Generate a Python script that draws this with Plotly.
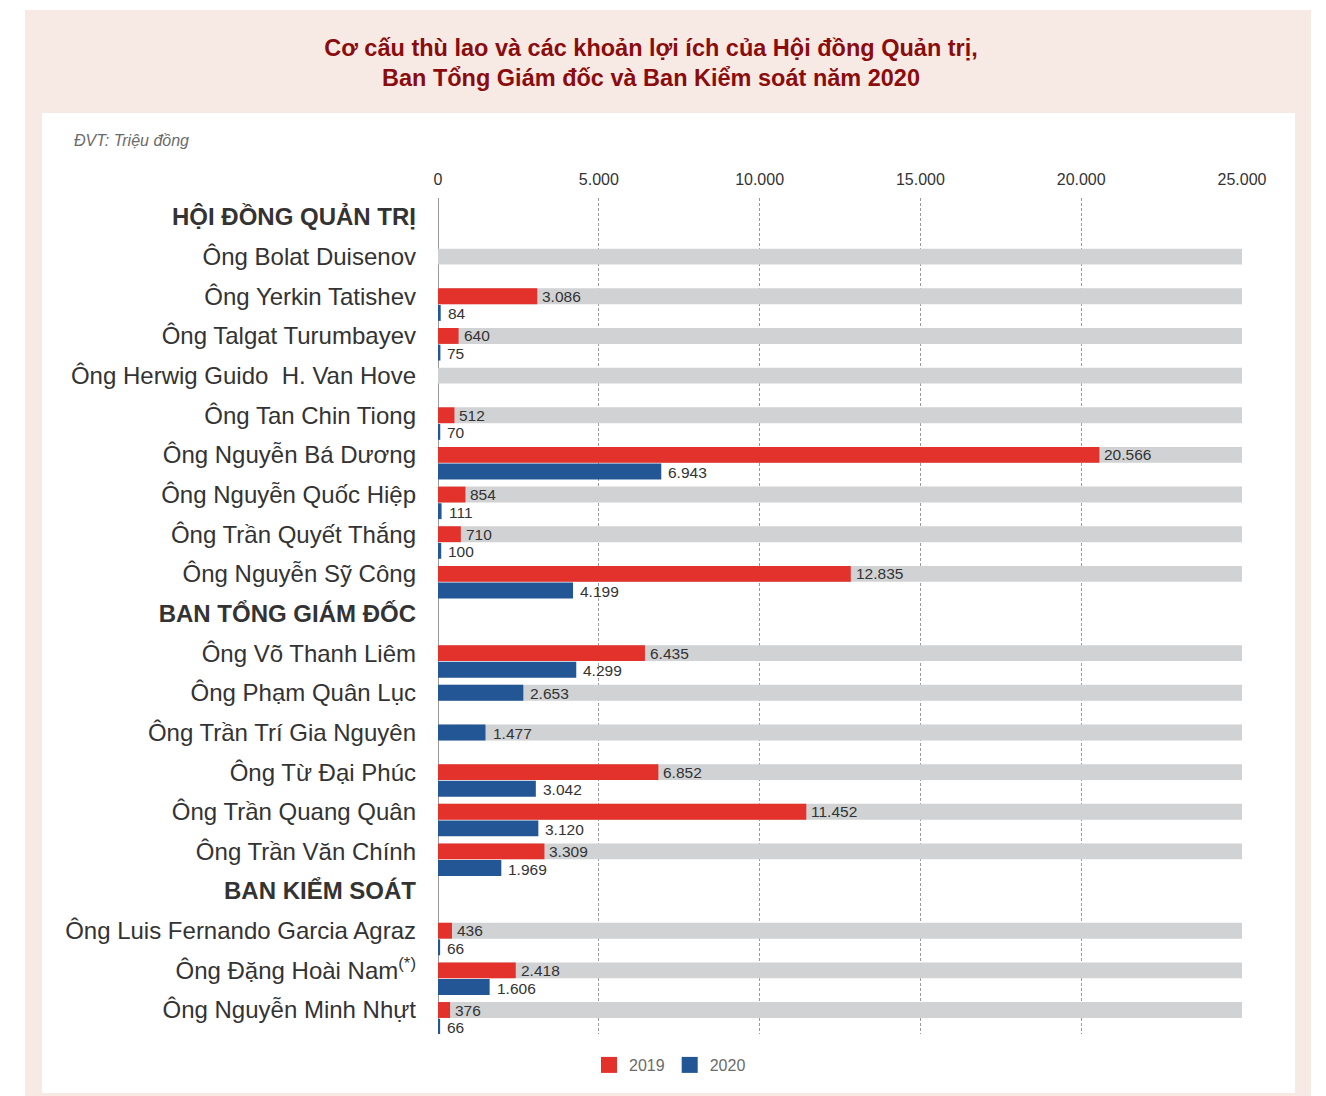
import plotly.graph_objects as go

# Row labels (top to bottom); group headers carry no values
labels = [
    "HỘI ĐỒNG QUẢN TRỊ",
    "Ông Bolat Duisenov",
    "Ông Yerkin Tatishev",
    "Ông Talgat Turumbayev",
    "Ông Herwig Guido\u00a0 H. Van Hove",
    "Ông Tan Chin Tiong",
    "Ông Nguyễn Bá Dương",
    "Ông Nguyễn Quốc Hiệp",
    "Ông Trần Quyết Thắng",
    "Ông Nguyễn Sỹ Công",
    "BAN TỔNG GIÁM ĐỐC",
    "Ông Võ Thanh Liêm",
    "Ông Phạm Quân Lục",
    "Ông Trần Trí Gia Nguyên",
    "Ông Từ Đại Phúc",
    "Ông Trần Quang Quân",
    "Ông Trần Văn Chính",
    "BAN KIỂM SOÁT",
    "Ông Luis Fernando Garcia Agraz",
    "Ông Đặng Hoài Nam<sup>(*)</sup>",
    "Ông Nguyễn Minh Nhựt",
]
is_header = [True, False, False, False, False, False, False, False, False, False,
             True, False, False, False, False, False, False,
             True, False, False, False]

# Remuneration, million VND
values_2019 = [None, None, 3086, 640, None, 512, 20566, 854, 710, 12835,
               None, 6435, None, None, 6852, 11452, 3309,
               None, 436, 2418, 376]
values_2020 = [None, None, 84, 75, None, 70, 6943, 111, 100, 4199,
               None, 4299, 2653, 1477, 3042, 3120, 1969,
               None, 66, 1606, 66]

axis_max = 25000
tick_vals = [0, 5000, 10000, 15000, 20000, 25000]
tick_text = ["0", "5.000", "10.000", "15.000", "20.000", "25.000"]

RED = "#E3312B"
BLUE = "#235694"
TRACK = "#D1D2D4"
TEXT = "#2b2b2b"
FONT = "Liberation Sans, Arial, sans-serif"

W, H = 1326, 1096
PL, PR, PT, PB = 438, 1242, 198, 1034  # plot area in pixels


def px_x(px):
    return (px - PL) / (PR - PL)


def px_y(py):
    return (PB - py) / (PB - PT)


def fmt(v):
    return f"{v:,}".replace(",", ".")


BAR_W = 0.40
OFFSET = 0.42

rows = list(range(len(labels)))
person_rows = [i for i in rows if not is_header[i]]

y19 = [i for i in rows if values_2019[i] is not None]
x19 = [values_2019[i] for i in y19]
# 2020 bar sits below the 2019 bar; it moves up when there is no 2019 value
y20_rows = [i for i in rows if values_2020[i] is not None]
y20 = [i + (OFFSET if values_2019[i] is not None else 0) for i in y20_rows]
x20 = [values_2020[i] for i in y20_rows]

fig = go.Figure()

fig.add_trace(go.Bar(
    x=[axis_max] * len(person_rows), y=person_rows, orientation="h",
    width=BAR_W, marker=dict(color=TRACK, line=dict(width=0)),
    showlegend=False, hoverinfo="skip",
))
fig.add_trace(go.Bar(
    x=x19, y=y19, orientation="h", width=BAR_W, name="2019",
    marker=dict(color=RED, line=dict(width=0)), showlegend=False,
    legendgroup="2019",
))
fig.add_trace(go.Bar(
    x=x20, y=y20, orientation="h", width=BAR_W, name="2020",
    marker=dict(color=BLUE, line=dict(width=0)), showlegend=False,
    legendgroup="2020",
))

# Legend entries with larger square swatches
for name, col in (("2019", RED), ("2020", BLUE)):
    fig.add_trace(go.Scatter(
        x=[None], y=[None], mode="markers", name=name, legendgroup=name,
        marker=dict(symbol="square", size=16, color=col),
    ))

annotations = []
for x, y in zip(x19, y19):
    annotations.append(dict(
        x=x, y=y, xref="x", yref="y", text=fmt(x), showarrow=False,
        xanchor="left", yanchor="middle", xshift=3,
        font=dict(family=FONT, size=15.5, color="#333333"),
    ))
for x, y in zip(x20, y20):
    annotations.append(dict(
        x=x, y=y, xref="x", yref="y", text=fmt(x), showarrow=False,
        xanchor="left", yanchor="middle", xshift=5, yshift=-1,
        font=dict(family=FONT, size=15.5, color="#333333"),
    ))

annotations.append(dict(
    x=px_x(72), y=px_y(140), xref="paper", yref="paper",
    text="<i>ĐVT: Triệu đồng</i>", showarrow=False,
    xanchor="left", yanchor="middle",
    font=dict(family=FONT, size=16, color="#6b6b6b"),
))

tick_labels = [f"<b>{t}</b>" if h else t for t, h in zip(labels, is_header)]

shapes = [
    dict(type="rect", xref="paper", yref="paper", layer="below",
         x0=px_x(25), x1=px_x(1311), y0=px_y(1096), y1=px_y(10),
         fillcolor="#F7EAE5", line=dict(width=0)),
    dict(type="rect", xref="paper", yref="paper", layer="below",
         x0=px_x(42), x1=px_x(1295), y0=px_y(1093), y1=px_y(113),
         fillcolor="#FFFFFF", line=dict(width=0)),
]

fig.update_layout(
    width=W, height=H,
    margin=dict(l=PL, r=W - PR, t=PT, b=H - PB, pad=0),
    paper_bgcolor="#FFFFFF",
    plot_bgcolor="rgba(0,0,0,0)",
    barmode="overlay",
    separators=",.",
    font=dict(family=FONT, color=TEXT),
    title=dict(
        text="Cơ cấu thù lao và các khoản lợi ích của Hội đồng Quản trị,<br>"
             "Ban Tổng Giám đốc và Ban Kiểm soát năm 2020",
        x=651 / W, xref="container", xanchor="center",
        y=1 - 55.5 / H, yref="container", yanchor="middle",
        font=dict(family=FONT, size=23.5, color="#8A0C0C", weight="bold"),
    ),
    xaxis=dict(
        range=[0, axis_max], side="top",
        tickvals=tick_vals, ticktext=tick_text,
        tickfont=dict(size=16, color="#333333"),
        ticks="", ticklabelstandoff=9,
        showgrid=True, gridcolor="#9a9a9a", gridwidth=1, griddash="3px,2px",
        zeroline=True, zerolinecolor="#9a9a9a", zerolinewidth=1,
        showline=False, fixedrange=True,
    ),
    yaxis=dict(
        range=[(PB - 217) / 39.65, (PT - 217) / 39.65],
        tickvals=rows, ticktext=tick_labels,
        tickfont=dict(size=24, color="#333333"),
        ticks="", ticklabelstandoff=21,
        showgrid=False, zeroline=False, showline=False, fixedrange=True,
    ),
    legend=dict(
        orientation="h", x=px_x(670), xanchor="center",
        y=px_y(1065), yanchor="middle",
        font=dict(size=16, color="#6b6b6b"),
        bgcolor="rgba(0,0,0,0)", itemwidth=30,
    ),
    shapes=shapes,
    annotations=annotations,
)

fig.write_html("out.html")
